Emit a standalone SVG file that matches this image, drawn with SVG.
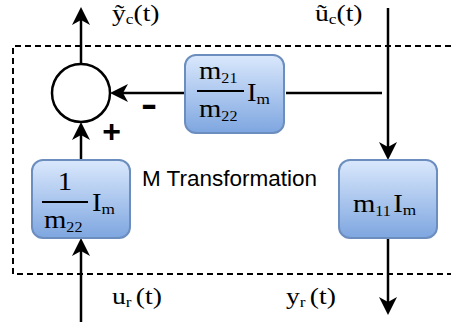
<svg xmlns="http://www.w3.org/2000/svg" width="451" height="322" viewBox="0 0 451 322">
<style>
.ln{fill:none;stroke:#000;stroke-width:2.5}
.box{fill:url(#g);stroke:#6c8ebf;stroke-width:2}
.ser{font-family:"Liberation Serif","Times New Roman",serif;font-size:25px;fill:#000}
.lab{font-size:24px}
.sub{font-size:14px}
.subm{font-size:15px}
.frac{stroke:#000;stroke-width:2}
.sans{font-family:"Liberation Sans",Arial,sans-serif;fill:#000}
</style>
<defs>
<linearGradient id="g" x1="0" y1="0" x2="0" y2="1">
<stop offset="0" stop-color="#dae8fc"/>
<stop offset="1" stop-color="#7ea6e0"/>
</linearGradient>
<marker id="arr" markerUnits="userSpaceOnUse" markerWidth="30" markerHeight="30" viewBox="-15 -15 30 30" refX="0" refY="0" orient="auto">
<path d="M8,0 L-10,-9 L-5,0 L-10,9 Z" fill="#000"/>
</marker>
</defs>
<path d="M451,46 H13 V274 H451" fill="none" stroke="#000" stroke-width="2" stroke-dasharray="6 4"/>
<g id="connectors">
<path class="ln" d="M81,64 V15" marker-end="url(#arr)"/>
<path class="ln" d="M185,93 H118" marker-end="url(#arr)"/>
<path class="ln" d="M286,93 H382"/>
<path class="ln" d="M388,8 V152" marker-end="url(#arr)"/>
<path class="ln" d="M81,160 V130" marker-end="url(#arr)"/>
<path class="ln" d="M81,322 V246" marker-end="url(#arr)"/>
<path class="ln" d="M388,238 V307" marker-end="url(#arr)"/>
</g>
<g id="sum">
<circle cx="81" cy="93" r="29" fill="#fff" stroke="#000" stroke-width="2.5"/>
<text class="sans" x="0" y="0" font-size="36" font-weight="bold" transform="translate(141,116) scale(1.35,1)">-</text>
<text class="sans" x="111.5" y="142" font-size="32" font-weight="bold" text-anchor="middle">+</text>
</g>
<g id="node-m21m22">
<rect class="box" x="185" y="55" width="99" height="78" rx="11"/>
<text class="ser" transform="translate(199,79) scale(1.15,1)">m<tspan class="sub" dy="4">21</tspan></text>
<line class="frac" x1="197" y1="91" x2="244" y2="91"/>
<text class="ser" transform="translate(199,117) scale(1.15,1)">m<tspan class="sub" dy="4">22</tspan></text>
<text class="ser" transform="translate(247,101) scale(1.15,1)">I<tspan class="subm" dy="3">m</tspan></text>
</g>
<g id="node-1m22">
<rect class="box" x="32" y="160" width="98" height="78" rx="11"/>
<text class="ser" text-anchor="middle" transform="translate(65,190) scale(1.15,1)">1</text>
<line class="frac" x1="42" y1="202" x2="88" y2="202"/>
<text class="ser" transform="translate(44,228) scale(1.15,1)">m<tspan class="sub" dy="4">22</tspan></text>
<text class="ser" transform="translate(92,211) scale(1.15,1)">I<tspan class="subm" dy="3">m</tspan></text>
</g>
<g id="node-m11">
<rect class="box" x="339" y="160" width="98" height="78" rx="11"/>
<text class="ser" transform="translate(353,212) scale(1.15,1)">m<tspan class="sub" dy="4">11</tspan><tspan dy="-4" dx="2">I</tspan><tspan class="subm" dy="3">m</tspan></text>
</g>
<text class="sans" x="142" y="186" font-size="22.5">M Transformation</text>
<g id="labels">
<text class="ser lab" transform="translate(112,21) scale(1.15,1)">ỹ<tspan class="subm" dy="3">c</tspan><tspan dy="-3">(t)</tspan></text>
<text class="ser lab" transform="translate(315,21) scale(1.15,1)">ũ<tspan class="subm" dy="3">c</tspan><tspan dy="-3">(t)</tspan></text>
<text class="ser lab" transform="translate(112,304) scale(1.15,1)">u<tspan class="subm" dy="3">r </tspan><tspan dy="-3">(t)</tspan></text>
<text class="ser lab" transform="translate(286,304) scale(1.15,1)">y<tspan class="subm" dy="3">r </tspan><tspan dy="-3">(t)</tspan></text>
</g>
</svg>
